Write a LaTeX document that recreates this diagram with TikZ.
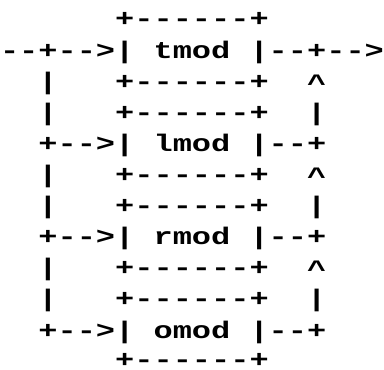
\documentclass[tikz,border=0pt]{standalone}
\usepackage{fontspec}
\usepackage{tikz}
\newfontfamily\asciifont{Liberation Mono}[Ligatures=TeXOff, FakeStretch=1.333]

\begin{document}
\begin{tikzpicture}[x=9.6pt, y=15.55pt,
	ascii/.style={anchor=base west, inner sep=0pt, outer sep=0pt,
		font=\asciifont\bfseries\fontsize{12pt}{12pt}\selectfont}]
		
		% Fix the margins of the picture
		\useasboundingbox (0,0.868) rectangle (20,-10.997);
		
		% The top module with the input and output lines
		\node[ascii] (tmod-top) at (6,0) {+------+};
		\node[ascii] (tmod) at (0,-1) {--+-->| tmod |--+-->};
		
		% The modules below, fed from the left and feeding back up on the right
		\foreach \m [count=\i] in {lmod,rmod,omod} {
			\node[ascii] (\m-inA) at (2,-3*\i+1) {|};
			\node[ascii] (\m-inB) at (2,-3*\i) {|};
			\node[ascii] (\m-top) at (6,-3*\i+1) {+------+};
			\node[ascii] (\m-topB) at (6,-3*\i) {+------+};
			\node[ascii, yshift=-1pt] (\m-up) at (16,-3*\i+1) {\textasciicircum};
			\node[ascii] (\m-upB) at (16,-3*\i) {|};
			\node[ascii] (\m) at (2,-3*\i-1) {+-->| \m\ |--+};
		}
		
		% The bottom border
		\node[ascii] (omod-bot) at (6,-10.95) {+------+};
		
	\end{tikzpicture}
\end{document}
